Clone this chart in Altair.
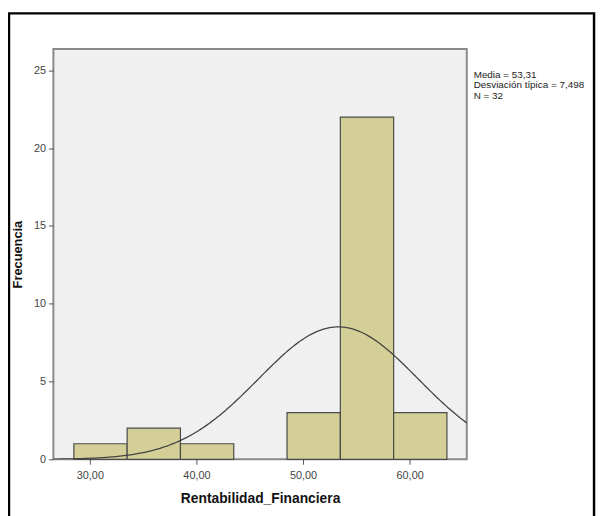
import altair as alt
import pandas as pd
import numpy as np

# Histogram bins (Rentabilidad_Financiera)
bin_start = [28.5, 33.5, 38.5, 43.5, 48.5, 53.5, 58.5]
bin_end = [33.5, 38.5, 43.5, 48.5, 53.5, 58.5, 63.5]
counts = [1, 2, 1, 0, 3, 22, 3]

# Summary statistics shown on chart
media = 53.31
desv = 7.498
n_total = 32
bin_width = 5.0

stats_lines = ["Media = 53,31", "Desviación típica = 7,498", "N = 32"]

bars = pd.DataFrame({"x0": bin_start, "x1": bin_end, "count": counts})
bars = bars[bars["count"] > 0]

xs = np.linspace(26.58, 65.36, 200)
curve = pd.DataFrame({
    "x": xs,
    "y": n_total * bin_width / (desv * np.sqrt(2 * np.pi)) * np.exp(-0.5 * ((xs - media) / desv) ** 2),
})

W, H = 419, 416
xscale = alt.Scale(domain=[26.58, 65.36], nice=False, zero=False)
yscale = alt.Scale(domain=[0, 26.38], nice=False)

xaxis = alt.Axis(
    title="Rentabilidad_Financiera", values=[30, 40, 50, 60],
    labelExpr="replace(format(datum.value, '.2f'), '.', ',')",
    grid=False, domain=False, tickColor="#555", tickSize=5,
    labelColor="#444", labelFont="Arial", labelFontSize=11,
    titleFont="Arial", titleFontSize=14, titleFontWeight="bold",
    titleColor="#111", titlePadding=12, labelPadding=5,
)
yaxis = alt.Axis(
    title="Frecuencia", values=[0, 5, 10, 15, 20, 25],
    grid=False, domain=False, tickColor="#555", tickSize=5,
    labelColor="#444", labelFont="Arial", labelFontSize=11,
    titleFont="Arial", titleFontSize=13, titleFontWeight="bold",
    titleColor="#111", titlePadding=9, labelPadding=3,
)

bar_layer = alt.Chart(bars).mark_rect(
    fill="#D4CF97", stroke="#4a4a4a", strokeWidth=1.2
).encode(
    x=alt.X("x0:Q", scale=xscale, axis=xaxis),
    x2="x1:Q",
    y=alt.Y("count:Q", scale=yscale, axis=yaxis),
    y2=alt.datum(0),
)

curve_layer = alt.Chart(curve).mark_line(
    color="#444", strokeWidth=1.3, clip=True
).encode(
    x=alt.X("x:Q", scale=xscale),
    y=alt.Y("y:Q", scale=yscale),
)

stats_layer = alt.Chart(pd.DataFrame({"t": ["\n".join(stats_lines)]})).mark_text(
    align="left", baseline="top", font="Arial", fontSize=10, color="#222",
    lineBreak="\n", lineHeight=11, clip=False
).encode(
    x=alt.value(W + 7),
    y=alt.value(21),
    text="t:N",
)

border = alt.Chart(pd.DataFrame({"a": [0]})).mark_rect(
    fill=None, stroke="black", strokeWidth=2.5, clip=False
).encode(
    x=alt.value(-45), x2=alt.value(548), y=alt.value(-36), y2=alt.value(520)
)

chart = alt.layer(bar_layer, curve_layer, stats_layer, border).properties(
    width=W, height=H,
    background="white",
    autosize=alt.AutoSizeParams(type="none"),
    padding={"left": 46, "top": 38, "right": 132, "bottom": 54},
).configure_view(
    fill="#F0F0F0", stroke="#8a8a8a", strokeWidth=2
)

chart.save("out.html", embed_options={"renderer": "svg", "actions": False})
